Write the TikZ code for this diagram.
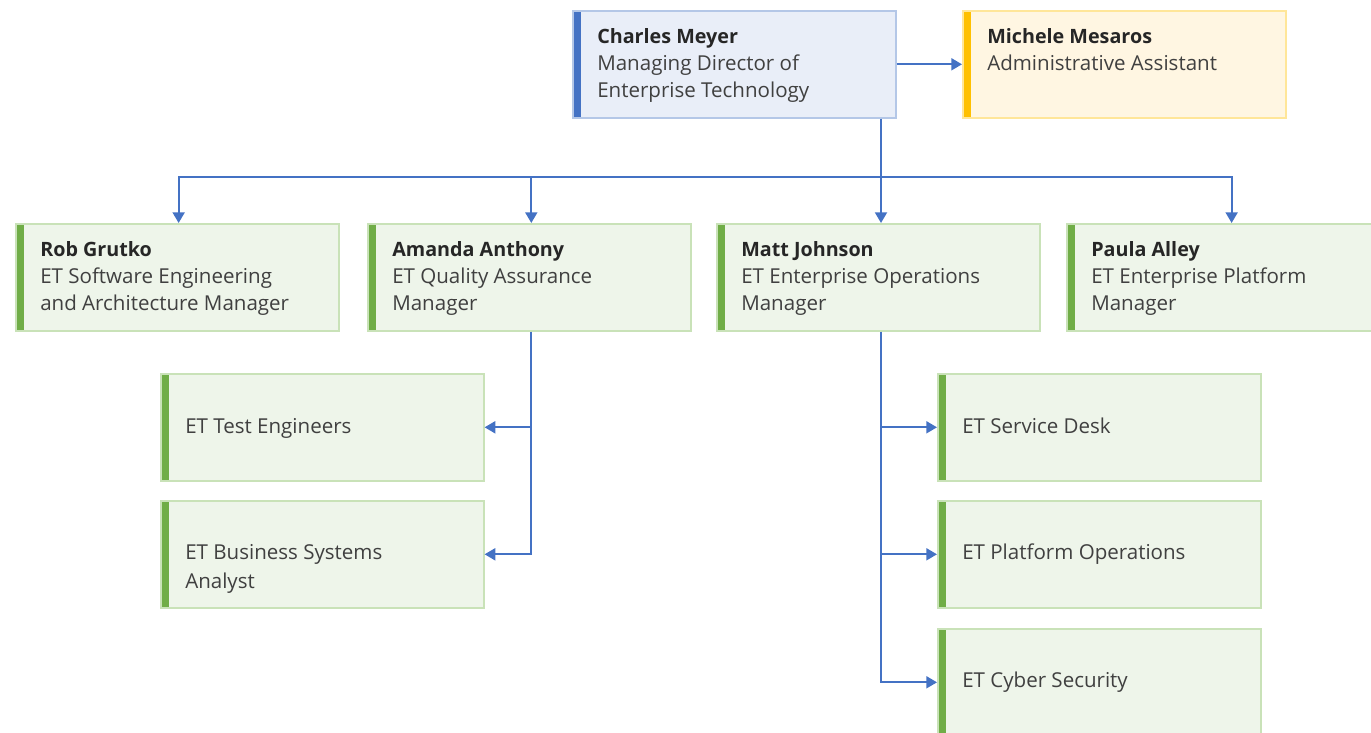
\documentclass[tikz,border=0pt]{standalone}
\usepackage{fontspec}
\setmainfont{Open Sans}
\usetikzlibrary{arrows.meta}
\definecolor{conn}{HTML}{4472C4}
\definecolor{barblue}{HTML}{4472C4}
\definecolor{fillblue}{HTML}{E9EEF8}
\definecolor{edgeblue}{HTML}{B4C7E7}
\definecolor{barorange}{HTML}{FFC000}
\definecolor{fillorange}{HTML}{FFF6E2}
\definecolor{edgeorange}{HTML}{FFE699}
\definecolor{bargreen}{HTML}{70AD47}
\definecolor{fillgreen}{HTML}{EEF5EA}
\definecolor{edgegreen}{HTML}{C9E2B8}
\definecolor{nametext}{HTML}{262626}
\definecolor{titletext}{HTML}{404040}
\tikzset{
  orgbox/.style n args={3}{rectangle, anchor=north west, inner sep=0pt,
    minimum width=242.25pt, minimum height=80.25pt,
    draw=#2, fill=#3, line width=1.2pt,
    path picture={\fill[#1] (path picture bounding box.north west) rectangle
      ([xshift=6pt]path picture bounding box.south west);}},
  bluebox/.style={orgbox={barblue}{edgeblue}{fillblue}},
  orangebox/.style={orgbox={barorange}{edgeorange}{fillorange}},
  greenbox/.style={orgbox={bargreen}{edgegreen}{fillgreen}},
  txt/.style={anchor=base west, inner sep=0pt, align=left, text=titletext,
    font=\fontsize{15.4pt}{20pt}\selectfont},
  nm/.style={anchor=base west, inner sep=0pt, text=nametext,
    font=\fontsize{14.8pt}{20pt}\selectfont\bfseries},
  link/.style={draw=conn, line width=1.4pt},
  arr/.style={link, -{Triangle[length=8pt,width=9pt]}},
}
\begin{document}
\begin{tikzpicture}[x=0.75pt,y=-0.75pt]
\useasboundingbox (0,0) rectangle (1371,732);
% boxes
\node[bluebox]   (cm)  at (572,10)  {};
\node[orangebox] (mm)  at (962,10)  {};
\node[greenbox]  (rg)  at (15,223)  {};
\node[greenbox]  (aa)  at (367,223) {};
\node[greenbox]  (mj)  at (716,223) {};
\node[greenbox]  (pa)  at (1066,223) {};
\node[greenbox]  (te)  at (160,373) {};
\node[greenbox]  (bsa) at (160,500) {};
\node[greenbox]  (sd)  at (937,373) {};
\node[greenbox]  (po)  at (937,500) {};
\node[greenbox]  (cs)  at (937,628) {};
% texts
\node[nm]  (cm1) at (597,43) {Charles Meyer};
\node[txt] (cm2) at (597,70) {Managing Director of};
\node[txt] (cm3) at (597,97) {Enterprise Technology};
\node[nm]  (mm1) at (987,43) {Michele Mesaros};
\node[txt] (mm2) at (987,70) {Administrative Assistant};
\node[nm]  (rg1) at (40,256) {Rob Grutko};
\node[txt] (rg2) at (40,283) {ET Software Engineering};
\node[txt] (rg3) at (40,310) {and Architecture Manager};
\node[nm]  (aa1) at (392,256) {Amanda Anthony};
\node[txt] (aa2) at (392,283) {ET Quality Assurance};
\node[txt] (aa3) at (392,310) {Manager};
\node[nm]  (mj1) at (741,256) {Matt Johnson};
\node[txt] (mj2) at (741,283) {ET Enterprise Operations};
\node[txt] (mj3) at (741,310) {Manager};
\node[nm]  (pa1) at (1091,256) {Paula Alley};
\node[txt] (pa2) at (1091,283) {ET Enterprise Platform};
\node[txt] (pa3) at (1091,310) {Manager};
\node[txt] (te1) at (185,433) {ET Test Engineers};
\node[txt] (bsa1) at (185,559) {ET Business Systems};
\node[txt] (bsa2) at (185,588) {Analyst};
\node[txt] (sd1) at (962,433) {ET Service Desk};
\node[txt] (po1) at (962,559) {ET Platform Operations};
\node[txt] (cs1) at (962,687) {ET Cyber Security};
% connectors
\coordinate (bus) at (881,177);
\draw[arr] (cm.east) -- (mm.west);
\draw[link] (cm.south -| bus) -- (bus);
\draw[arr] (bus) -| ([xshift=1pt]rg.north);
\draw[arr] (bus) -| ([xshift=1.5pt]aa.north);
\draw[arr] (bus) -- (bus |- mj.north);
\draw[arr] (bus) -| ([xshift=2.5pt]pa.north);
\coordinate (aj) at (531,0);
\draw[arr] (aj |- aa.south) |- (bsa.east);
\draw[arr] (aj |- te.east) -- (te.east);
\draw[arr] (bus |- mj.south) |- (cs.west);
\draw[arr] (bus |- sd.west) -- (sd.west);
\draw[arr] (bus |- po.west) -- (po.west);
\end{tikzpicture}
\end{document}
